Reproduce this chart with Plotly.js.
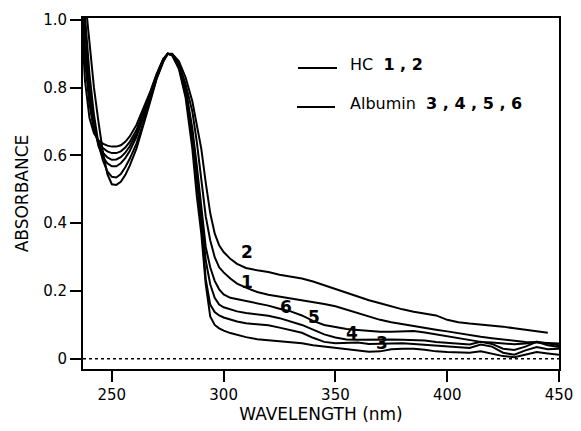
<!DOCTYPE html>
<html>
<head>
<meta charset="utf-8">
<script src="https://cdn.plot.ly/plotly-3.0.1.min.js"></script>
<style>html,body{margin:0;padding:0;background:#fff;}#chart{width:581px;height:431px;}</style>
</head>
<body>
<div id="chart"></div>
<script>
// Wavelength grid (nm)
var wavelength = [236,238,240,242,244,246,248,250,252,254,256,258,261,264,267,270,273,275,277,280,283,286,288,290,292,294,296,298,300,303,306,310,315,320,325,330,335,340,345,350,355,360,365,370,375,380,385,390,395,400,405,410,415,420,425,430,435,440,445,450];

// HC spectra
var hc1 = [1.18,1.0,0.84,0.72,0.635,0.585,0.553,0.537,0.535,0.545,0.565,0.59,0.635,0.695,0.76,0.828,0.878,0.90,0.898,0.872,0.81,0.73,0.64,0.53,0.42,0.35,0.30,0.27,0.255,0.237,0.222,0.21,0.197,0.189,0.184,0.179,0.174,0.168,0.162,0.155,0.145,0.136,0.125,0.115,0.108,0.102,0.097,0.091,0.086,0.081,0.075,0.07,0.065,0.061,0.057,0.053,0.05,0.048,0.046,0.045];
var hc2 = [1.2,1.06,0.92,0.80,0.70,0.61,0.545,0.515,0.513,0.522,0.542,0.57,0.62,0.685,0.755,0.825,0.876,0.90,0.90,0.878,0.83,0.76,0.69,0.62,0.52,0.43,0.37,0.335,0.315,0.295,0.28,0.268,0.261,0.256,0.248,0.243,0.237,0.228,0.217,0.207,0.195,0.183,0.173,0.164,0.154,0.146,0.139,0.133,0.128,0.115,0.108,0.104,0.101,0.099,0.095,0.09,0.086,0.081,0.077,null];

// Albumin spectra
var alb3 = [1.05,0.82,0.71,0.665,0.645,0.635,0.629,0.626,0.626,0.63,0.64,0.656,0.69,0.735,0.785,0.84,0.885,0.90,0.895,0.855,0.77,0.62,0.48,0.37,0.22,0.125,0.10,0.09,0.083,0.076,0.07,0.064,0.058,0.055,0.053,0.05,0.046,0.04,0.036,0.032,0.028,0.024,0.021,0.022,0.028,0.03,0.03,0.027,0.022,0.02,0.02,0.018,0.022,0.016,0.008,0.005,0.012,0.02,0.016,0.012];
var alb4 = [1.1,0.88,0.75,0.675,0.64,0.622,0.612,0.607,0.607,0.612,0.623,0.64,0.675,0.725,0.78,0.838,0.883,0.90,0.895,0.86,0.78,0.645,0.52,0.40,0.235,0.16,0.138,0.128,0.122,0.115,0.11,0.105,0.102,0.099,0.092,0.085,0.077,0.062,0.05,0.046,0.046,0.048,0.044,0.045,0.047,0.046,0.044,0.042,0.04,0.038,0.036,0.032,0.042,0.036,0.018,0.012,0.025,0.035,0.028,0.03];
var alb5 = [1.12,0.92,0.77,0.68,0.635,0.608,0.594,0.587,0.588,0.595,0.608,0.627,0.665,0.718,0.775,0.835,0.882,0.90,0.897,0.865,0.79,0.665,0.55,0.43,0.29,0.22,0.18,0.16,0.152,0.145,0.14,0.135,0.131,0.127,0.12,0.11,0.10,0.086,0.072,0.063,0.057,0.056,0.057,0.058,0.057,0.056,0.055,0.054,0.05,0.047,0.045,0.042,0.05,0.044,0.03,0.026,0.036,0.05,0.04,0.035];
var alb6 = [1.15,0.96,0.80,0.69,0.628,0.595,0.577,0.568,0.568,0.577,0.592,0.613,0.655,0.71,0.77,0.832,0.88,0.90,0.898,0.868,0.80,0.68,0.57,0.45,0.33,0.27,0.23,0.205,0.19,0.18,0.176,0.172,0.165,0.157,0.148,0.14,0.128,0.112,0.10,0.093,0.088,0.085,0.082,0.08,0.08,0.082,0.082,0.078,0.072,0.066,0.06,0.055,0.05,0.048,0.045,0.043,0.045,0.05,0.045,0.04];

var seriesNames = ["1","2","3","4","5","6"];
var seriesData = [hc1, hc2, alb3, alb4, alb5, alb6];

// curve label anchor points (nm, absorbance)
var labelText = ["2","1","6","5","4","3"];
var labelX = [310.5, 310.5, 328, 340.6, 357.3, 371];
var labelY = [0.314, 0.228, 0.152, 0.123, 0.076, 0.046];

var xTicks = [250,300,350,400,450];
var yTickVals = [0,0.2,0.4,0.6,0.8,1.0];
var yTickText = ["0","0.2","0.4","0.6","0.8","1.0"];

var traces = seriesData.map(function(d,i){
  return {x: wavelength, y: d, type:'scatter', mode:'lines', name: seriesNames[i],
    line:{color:'#000', width:2}, connectgaps:false, cliponaxis:true, hoverinfo:'skip'};
});

var font = "DejaVu Sans, Arial, sans-serif";
var annotations = labelText.map(function(t,i){
  return {x: labelX[i], y: labelY[i], xref:'x', yref:'y', text:'<b>'+t+'</b>', showarrow:false,
    font:{family:font, size:17, color:'#000'}, xanchor:'center', yanchor:'middle'};
});
annotations.push({xref:'paper', yref:'paper', x:0.5567, y:0.868, xanchor:'left', yanchor:'middle', showarrow:false,
  text:'HC  <b>1 , 2</b>', font:{family:font, size:16, color:'#000'}});
annotations.push({xref:'paper', yref:'paper', x:0.5567, y:0.757, xanchor:'left', yanchor:'middle', showarrow:false,
  text:'Albumin  <b>3 , 4 , 5 , 6</b>', font:{family:font, size:16, color:'#000'}});

var shapes = [
  {type:'line', xref:'paper', yref:'y', x0:0, x1:1, y0:0, y1:0, line:{color:'#000', width:1.5, dash:'dot'}},
  {type:'line', xref:'paper', yref:'paper', x0:0.4517, x1:0.5336, y0:0.8575, y1:0.8575, line:{color:'#000', width:2}},
  {type:'line', xref:'paper', yref:'paper', x0:0.4496, x1:0.5294, y0:0.7464, y1:0.7464, line:{color:'#000', width:2}}
];

var layout = {
  width:581, height:431,
  margin:{l:83, r:22, t:18, b:62},
  paper_bgcolor:'#fff', plot_bgcolor:'#fff',
  showlegend:false,
  font:{family:font, color:'#000', size:15},
  xaxis:{range:[237.1,450], tickvals:xTicks, ticks:'outside', ticklen:11, tickwidth:2, tickcolor:'#000',
    showline:true, linecolor:'#000', linewidth:2, mirror:true, showgrid:false, zeroline:false,
    tickfont:{family:font, size:15, color:'#000'},
    title:{text:'WAVELENGTH (nm)', font:{family:font, size:17, color:'#000'}, standoff:3}},
  yaxis:{range:[-0.03,1.0054], tickvals:yTickVals, ticktext:yTickText, ticks:'outside', ticklen:11, tickwidth:2, tickcolor:'#000',
    showline:true, linecolor:'#000', linewidth:2, mirror:true, showgrid:false, zeroline:false,
    tickfont:{family:font, size:15, color:'#000'},
    title:{text:'ABSORBANCE', font:{family:font, size:17, color:'#000'}, standoff:10}},
  annotations: annotations,
  shapes: shapes
};

Plotly.newPlot('chart', traces, layout, {staticPlot:true, displayModeBar:false});
</script>
</body>
</html>
